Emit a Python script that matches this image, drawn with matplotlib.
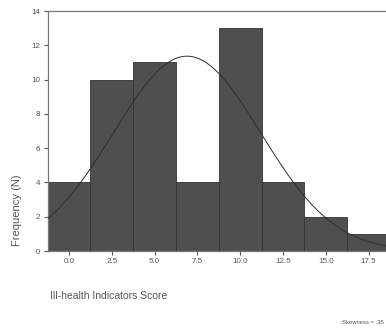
import numpy as np
import matplotlib
matplotlib.use("Agg")
import matplotlib.pyplot as plt

plt.rcParams['font.family'] = ['Liberation Sans', 'DejaVu Sans']

bin_centers = [0.0, 2.5, 5.0, 7.5, 10.0, 12.5, 15.0, 17.5]
frequencies = [4, 10, 11, 4, 13, 4, 2, 1]
bin_width = 2.5
x_ticks = [0.0, 2.5, 5.0, 7.5, 10.0, 12.5, 15.0, 17.5]
x_tick_labels = ["0.0", "2.5", "5.0", "7.5", "10.0", "12.5", "15.0", "17.5"]
y_ticks = [0, 2, 4, 6, 8, 10, 12, 14]
fit_mean = 6.9
fit_sd = 4.3

fig = plt.figure(figsize=(3.86, 3.33), dpi=100)
ax = fig.add_axes([47.5/386, 1-251/333, (390-47.5)/386, (251-11)/333])

ax.bar(bin_centers, frequencies, width=bin_width, color='#4f4f4f',
       edgecolor='#333333', linewidth=0.6, zorder=2)

n = sum(frequencies)
xs = np.linspace(-1.25, 18.75, 300)
ys = n * bin_width / (fit_sd * np.sqrt(2*np.pi)) * np.exp(-(xs-fit_mean)**2/(2*fit_sd**2))
ax.plot(xs, ys, color='#2c2c2c', linewidth=0.7, zorder=3)

ax.set_xlim(-1.25, 18.75)
ax.set_ylim(0, 14)
ax.set_xticks(x_ticks)
ax.set_xticklabels(x_tick_labels)
ax.set_yticks(y_ticks)
ax.tick_params(labelsize=5.8, colors='#555555', length=3, width=0.8, pad=2)
ax.spines['right'].set_visible(False)
for s in ['left', 'top', 'bottom']:
    ax.spines[s].set_color('#777777')
    ax.spines[s].set_linewidth(0.9)

fig.text(17/386, 1-210/333, 'Frequency (N)', rotation=90, ha='center', va='center',
         fontsize=8, color='#555555')
fig.text(50/386, 1-296/333, 'Ill-health Indicators Score', ha='left', va='center',
         fontsize=7.5, color='#555555')
fig.text(384/386, 1-323/333, 'Skewness = .35', ha='right', va='center',
         fontsize=4.2, color='#555555')

fig.savefig('out.png', dpi=100)
